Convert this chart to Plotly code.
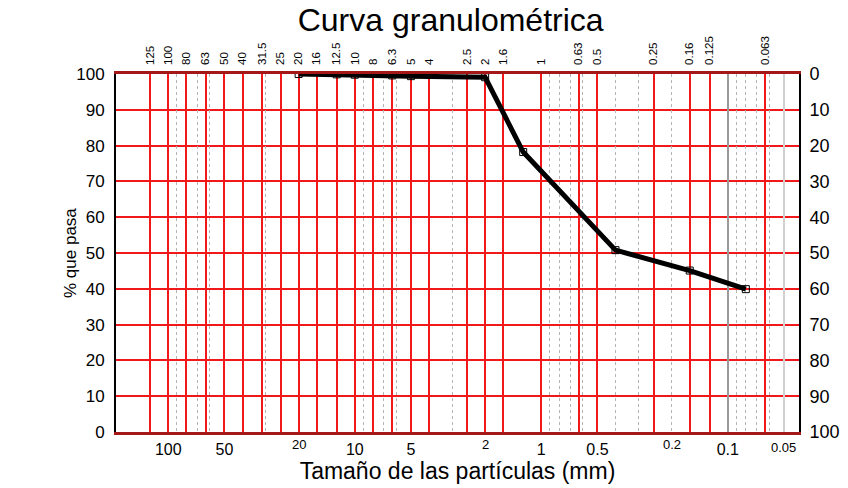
import math
import plotly.graph_objects as go

# Grading test result: sieve opening (mm) and cumulative % passing
sieve_mm = [20, 12.5, 10, 6.3, 5, 2, 1.25, 0.4, 0.16, 0.08]
passing_pct = [100, 99.9, 99.8, 99.6, 99.4, 99.1, 78.2, 50.8, 45.1, 39.9]

# Standard sieve series, labelled along the top edge (red grid)
sieve_series = [125, 100, 80, 63, 50, 40, 31.5, 25, 20, 16, 12.5, 10, 8, 6.3,
                5, 4, 2.5, 2, 1.6, 1, 0.63, 0.5, 0.25, 0.16, 0.125, 0.063]
sieve_labels = ["125", "100", "80", "63", "50", "40", "31.5", "25", "20", "16",
                "12.5", "10", "8", "6.3", "5", "4", "2.5", "2", "1.6", "1",
                "0.63", "0.5", "0.25", "0.16", "0.125", "0.063"]

# Particle-size scale along the bottom edge (main and secondary marks)
size_vals = [100, 50, 10, 5, 1, 0.5, 0.1]
size_labels = ["100", "50", "10", "5", "1", "0.5", "0.1"]
small_size_vals = [20, 2, 0.2, 0.05]
small_size_labels = ["20", "2", "0.2", "0.05"]

# Log-cycle subdivisions (dashed), decades and half-decade reference lines
minor_vals = [90, 70, 60, 30, 9, 7, 6, 3, 0.9, 0.8, 0.7, 0.6, 0.4, 0.3, 0.2,
              0.09, 0.08, 0.07, 0.06]
decade_vals = [100, 10, 1, 0.1]
light_vals = [0.05]

pct_ticks = [0, 10, 20, 30, 40, 50, 60, 70, 80, 90, 100]

FONT = "Liberation Sans, Arial, Helvetica, sans-serif"
X_RANGE = [math.log10(190.7), math.log10(0.0415)]   # coarse sizes on the left
EDGE = "#a51818"
W, H = 848, 488
M = dict(l=116, r=49, t=74, b=56)
PLOT_W = W - M["l"] - M["r"]
PLOT_H = H - M["t"] - M["b"]


def paper_x(px):
    return (px - M["l"]) / PLOT_W


def paper_y(py):
    return (H - M["b"] - py) / PLOT_H


fig = go.Figure()

# empty traces register the overlaid grid / scale axes so they get drawn
for xa, ya in [("x2", "y"), ("x3", "y"), ("x4", "y"), ("x5", "y"), ("x", "y2")]:
    fig.add_trace(go.Scatter(x=[], y=[], xaxis=xa, yaxis=ya, mode="lines",
                             showlegend=False, hoverinfo="skip"))

fig.add_trace(go.Scatter(
    x=sieve_mm, y=passing_pct, mode="lines+markers",
    line=dict(color="black", width=5),
    marker=dict(symbol="square-open", size=7, color="black",
                line=dict(color="black", width=1)),
    showlegend=False, hoverinfo="x+y",
))

overlay = dict(type="log", range=X_RANGE, overlaying="x", anchor="y",
               showticklabels=False, ticks="", showline=False, zeroline=False,
               tickmode="array", automargin=False)

# secondary size marks: smaller and slightly raised
annotations = []
for v, t in zip(small_size_vals, small_size_labels):
    annotations.append(dict(
        x=math.log10(v), xref="x", y=paper_y(447 if t == "0.05" else 444),
        yref="paper", text=t, showarrow=False, xanchor="center",
        yanchor="middle", font=dict(size=13, color="black")))

# axis titles (the retained-% title runs off the right edge of the page)
annotations.append(dict(
    x=paper_x(70), y=0.5, xref="paper", yref="paper", text="% que pasa",
    textangle=-90, showarrow=False, xanchor="center", yanchor="middle",
    font=dict(size=17, color="black")))
annotations.append(dict(
    x=paper_x(854), y=paper_y(288), xref="paper", yref="paper",
    text="% retenido", textangle=-90, showarrow=False, xanchor="center",
    yanchor="middle", font=dict(size=13, color="black")))

fig.update_layout(
    width=W, height=H, margin=M,
    paper_bgcolor="white", plot_bgcolor="white",
    font=dict(family=FONT, color="black"),
    title=dict(text="Curva granulométrica", font=dict(size=32, color="black"),
               x=0.49, xref="paper", xanchor="center",
               y=1 - 20 / H, yref="container", yanchor="middle",
               automargin=False),
    xaxis=dict(
        type="log", range=X_RANGE, tickmode="array", automargin=False,
        tickvals=size_vals, ticktext=size_labels, tickfont=dict(size=16),
        ticks="", ticklabelstandoff=1, showgrid=False, zeroline=False,
        showline=True, linecolor=EDGE, linewidth=2.5,
        title=dict(text="Tamaño de las partículas (mm)", font=dict(size=23),
                   standoff=4),
    ),
    xaxis2=dict(overlay, tickvals=minor_vals, showgrid=True,
                gridcolor="#b4b4b4", gridwidth=1, griddash="3px,3px"),
    xaxis3=dict(overlay, tickvals=decade_vals, showgrid=True,
                gridcolor="#9a9a9a", gridwidth=2),
    xaxis4=dict(overlay, tickvals=light_vals, showgrid=True,
                gridcolor="#d0d0d0", gridwidth=2),
    xaxis5=dict(overlay, side="top", tickvals=sieve_series,
                ticktext=sieve_labels, showticklabels=True, tickangle=-90,
                tickfont=dict(size=11.5), ticklabelstandoff=4,
                showgrid=True, gridcolor="#f01818", gridwidth=1.5,
                showline=True, linecolor=EDGE, linewidth=2.5),
    yaxis=dict(
        range=[0, 100], tickmode="array", tickvals=pct_ticks, automargin=False,
        tickfont=dict(size=17), ticks="", ticklabelstandoff=6,
        showgrid=True, gridcolor="#f01818", gridwidth=1.5, zeroline=False,
        showline=True, linecolor="black", linewidth=2,
    ),
    yaxis2=dict(
        overlaying="y", side="right", anchor="x", range=[100, 0],
        automargin=False,
        tickmode="array", tickvals=pct_ticks, tickfont=dict(size=18),
        ticks="", ticklabelstandoff=5, showgrid=False, zeroline=False,
        showline=True, linecolor="black", linewidth=2,
    ),
    annotations=annotations,
)

fig.write_html("out.html")
